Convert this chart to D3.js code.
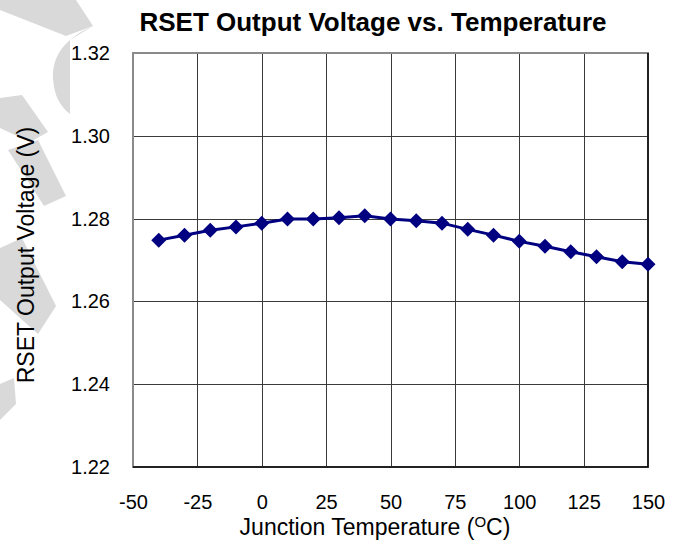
<!DOCTYPE html>
<html>
<head>
<meta charset="utf-8">
<script src="https://cdn.jsdelivr.net/npm/d3@7"></script>
<style>
  body { margin: 0; background: #fff; }
  text { font-family: "Liberation Sans", Arial, sans-serif; fill: #000; }
</style>
</head>
<body>
<script>
// data
const temps = [-40, -30, -20, -10, 0, 10, 20, 30, 40, 50, 60, 70, 80, 90, 100, 110, 120, 130, 140, 150];
const volts = [1.2748, 1.2760, 1.2772, 1.2780, 1.2789, 1.2799, 1.2799, 1.2802, 1.2807, 1.2799,
               1.2795, 1.2789, 1.2774, 1.2760, 1.2745, 1.2733, 1.2720, 1.2708, 1.2696, 1.2690];
const xTicks = [-50, -25, 0, 25, 50, 75, 100, 125, 150];
const yTicks = [1.22, 1.24, 1.26, 1.28, 1.30, 1.32];

const W = 684, H = 544;
const svg = d3.select("body").append("svg")
    .attr("width", W)
    .attr("height", H);

svg.append("rect").attr("width", W).attr("height", H).attr("fill", "#fff");

// grey "preliminary" watermark pieces on the left
const wm = [
    [[0, 0], [76, 0], [93, 26], [66, 36], [0, 10]],
    [[0, 98], [22, 95], [48, 132], [30, 142], [0, 128]],
    [[8, 150], [38, 140], [66, 196], [44, 206]],
    [[0, 248], [22, 238], [56, 306], [38, 334], [0, 300]],
    [[0, 384], [14, 378], [16, 404], [0, 420]]
];
svg.selectAll(".wm").data(wm).join("polygon")
    .attr("class", "wm")
    .attr("points", d => d.map(p => p.join(",")).join(" "))
    .attr("fill", "#d9d9d9");
// curved piece of the watermark
svg.append("path")
    .attr("d", "M93,26 C70,36 52,52 53,78 C54,96 60,106 70,114 L70,40 Z")
    .attr("fill", "#d9d9d9");

const x = d3.scaleLinear().domain([-50, 150]).range([133, 648]);
const y = d3.scaleLinear().domain([1.22, 1.32]).range([467, 53]);

// title
svg.append("text")
    .attr("x", 373).attr("y", 31)
    .attr("text-anchor", "middle")
    .style("font-size", "26px")
    .style("font-weight", "bold")
    .text("RSET Output Voltage vs. Temperature");

// grid lines
svg.append("g").selectAll("line").data(xTicks.slice(1, -1)).join("line")
    .attr("x1", d => Math.round(x(d)) + 0.5).attr("x2", d => Math.round(x(d)) + 0.5)
    .attr("y1", y(1.32)).attr("y2", y(1.22))
    .attr("stroke", "#3a3a3a").attr("stroke-width", 1);
svg.append("g").selectAll("line").data(yTicks.slice(1, -1)).join("line")
    .attr("x1", x(-50)).attr("x2", x(150))
    .attr("y1", d => Math.round(y(d)) + 0.5).attr("y2", d => Math.round(y(d)) + 0.5)
    .attr("stroke", "#3a3a3a").attr("stroke-width", 1);

// plot frame: grey top/left, black bottom/right
svg.append("rect")
    .attr("x", x(-50)).attr("y", y(1.32))
    .attr("width", x(150) - x(-50)).attr("height", y(1.22) - y(1.32))
    .attr("fill", "none").attr("stroke", "#8a8a8a").attr("stroke-width", 2);
svg.append("path")
    .attr("d", `M${x(-50)},${y(1.22)}H${x(150)}V${y(1.32)}`)
    .attr("fill", "none").attr("stroke", "#000").attr("stroke-width", 1.5);

// axes labels via d3 axes (no tick lines / domain)
const yAxis = svg.append("g")
    .attr("transform", `translate(${x(-50)},0)`)
    .call(d3.axisLeft(y).tickValues(yTicks).tickFormat(d3.format(".2f")).tickSize(0).tickPadding(23));
const xAxis = svg.append("g")
    .attr("transform", `translate(0,${y(1.22)})`)
    .call(d3.axisBottom(x).tickValues(xTicks).tickFormat(d => String(d)).tickSize(0).tickPadding(28));
[yAxis, xAxis].forEach(function(a) {
    a.select(".domain").remove();
    a.selectAll("text").style("font-size", "20px").attr("fill", "#000")
        .style("font-family", "'Liberation Sans', Arial, sans-serif");
});

// axis titles
svg.append("text")
    .attr("transform", "translate(34,255) rotate(-90)")
    .attr("text-anchor", "middle")
    .style("font-size", "23px")
    .text("RSET Output Voltage (V)");

const xt = svg.append("text")
    .attr("x", 375).attr("y", 535)
    .attr("text-anchor", "middle")
    .style("font-size", "23px");
xt.append("tspan").text("Junction Temperature (");
xt.append("tspan").attr("dy", -8).style("font-size", "15px").text("O");
xt.append("tspan").attr("dy", 8).text("C)");

// series line and diamond markers
const line = d3.line().x((d, i) => x(temps[i])).y(d => y(d));
svg.append("path")
    .datum(volts)
    .attr("d", line)
    .attr("fill", "none")
    .attr("stroke", "#000080")
    .attr("stroke-width", 3);

svg.selectAll(".pt").data(volts).join("path")
    .attr("class", "pt")
    .attr("transform", (d, i) => `translate(${x(temps[i])},${y(d)})`)
    .attr("d", "M0,-7.5L7.5,0L0,7.5L-7.5,0Z")
    .attr("fill", "#000080");
</script>
</body>
</html>
